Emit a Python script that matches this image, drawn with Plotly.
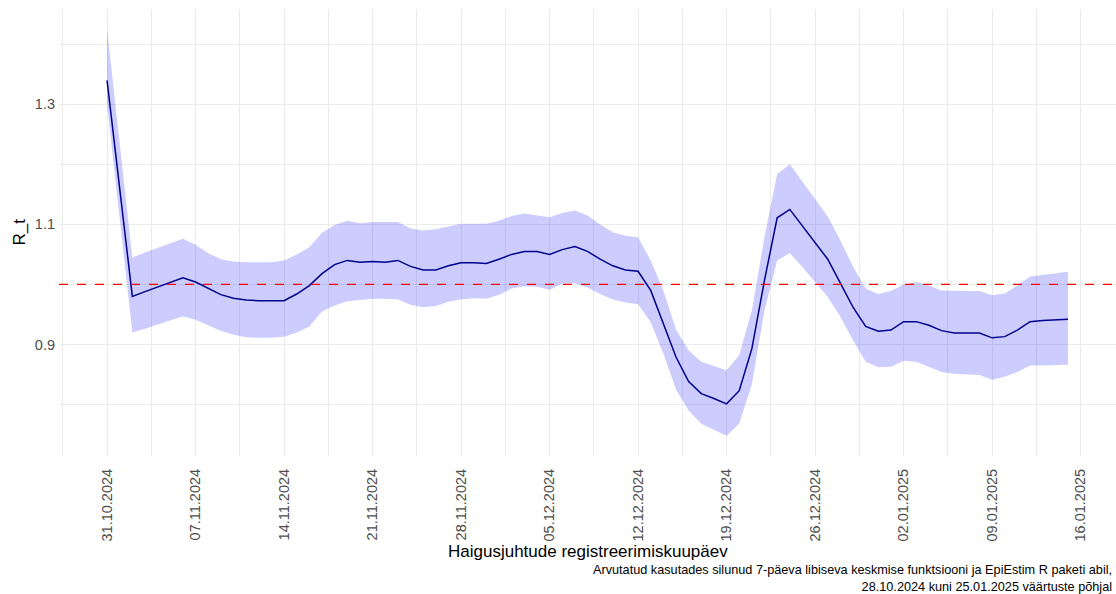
import pandas as pd
import plotly.graph_objects as go

start_date = "2024-10-31"
n_days = 77
dates = pd.date_range(start_date, periods=n_days, freq="D")

r_mean = [1.340, 1.160, 0.980, 0.988, 0.996, 1.004, 1.011, 1.004, 0.993, 0.983,
          0.977, 0.974, 0.973, 0.973, 0.973, 0.984, 0.998, 1.018, 1.033, 1.040,
          1.037, 1.038, 1.037, 1.040, 1.030, 1.024, 1.024, 1.031, 1.036, 1.036,
          1.035, 1.042, 1.050, 1.055, 1.055, 1.050, 1.058, 1.063, 1.055, 1.042,
          1.031, 1.024, 1.022, 0.990, 0.935, 0.879, 0.838, 0.818, 0.810, 0.801,
          0.823, 0.893, 1.007, 1.111, 1.125, 1.098, 1.070, 1.042, 1.002, 0.962,
          0.930, 0.922, 0.924, 0.938, 0.938, 0.932, 0.923, 0.919, 0.919, 0.919,
          0.911, 0.913, 0.924, 0.938, 0.940, 0.941, 0.942]

r_upper = [1.425, 1.235, 1.045, 1.053, 1.061, 1.069, 1.076, 1.066, 1.052, 1.042,
           1.038, 1.037, 1.037, 1.037, 1.040, 1.050, 1.062, 1.086, 1.099, 1.106,
           1.102, 1.104, 1.104, 1.104, 1.093, 1.090, 1.092, 1.097, 1.101, 1.101,
           1.101, 1.106, 1.114, 1.118, 1.115, 1.112, 1.119, 1.123, 1.115, 1.100,
           1.087, 1.081, 1.078, 1.040, 0.990, 0.925, 0.890, 0.871, 0.864, 0.857,
           0.882, 0.957, 1.079, 1.184, 1.200, 1.171, 1.143, 1.113, 1.073, 1.030,
           0.993, 0.984, 0.989, 1.000, 1.004, 0.998, 0.990, 0.989, 0.989, 0.989,
           0.982, 0.985, 0.998, 1.013, 1.016, 1.019, 1.021]

r_lower = [1.300, 1.110, 0.920, 0.926, 0.933, 0.940, 0.947, 0.941, 0.932, 0.923,
           0.916, 0.912, 0.911, 0.911, 0.913, 0.920, 0.930, 0.955, 0.965, 0.972,
           0.974, 0.976, 0.976, 0.975, 0.966, 0.962, 0.964, 0.971, 0.975, 0.977,
           0.976, 0.983, 0.993, 0.997, 0.996, 0.991, 1.001, 1.002, 0.995, 0.984,
           0.975, 0.970, 0.967, 0.937, 0.885, 0.825, 0.790, 0.768, 0.758, 0.748,
           0.768, 0.834, 0.957, 1.040, 1.052, 1.029, 1.004, 0.979, 0.946, 0.907,
           0.871, 0.862, 0.863, 0.873, 0.871, 0.862, 0.854, 0.851, 0.850, 0.849,
           0.841, 0.846, 0.854, 0.865, 0.865, 0.865, 0.866]

threshold = 1.0
x_title = "Haigusjuhtude registreerimiskuupäev"
y_title = "R_t"
caption_lines = [
    "Arvutatud kasutades silunud 7-päeva libiseva keskmise funktsiooni ja EpiEstim R paketi abil,",
    "28.10.2024 kuni 25.01.2025 väärtuste põhjal",
]

FONT = "Liberation Sans, Arial, sans-serif"
GRID = "#EBEBEB"
DAY_MS = 86400000

fig = go.Figure()
fig.add_trace(go.Scatter(x=dates, y=r_lower, mode="lines", line=dict(width=0),
                         hoverinfo="skip", showlegend=False))
fig.add_trace(go.Scatter(x=dates, y=r_upper, mode="lines", line=dict(width=0),
                         fill="tonexty", fillcolor="rgba(0,0,255,0.2)",
                         hoverinfo="skip", showlegend=False))
fig.add_trace(go.Scatter(x=dates, y=r_mean, mode="lines",
                         line=dict(color="#00008B", width=1.5), showlegend=False))

fig.add_shape(type="line", xref="paper", x0=0, x1=1, yref="y", y0=threshold, y1=threshold,
              line=dict(color="#FF0000", width=1.3, dash="dash"), layer="above")

span = (dates[-1] - dates[0]) * 0.05
x_range = [dates[0] - span, dates[-1] + span]
y_min = min(r_lower)
y_max = max(r_upper)
y_pad = (y_max - y_min) * 0.05

fig.update_layout(
    width=1116, height=594,
    margin=dict(l=59, r=0, t=9, b=138),
    paper_bgcolor="white", plot_bgcolor="white",
    font=dict(family=FONT, color="#4D4D4D"),
    xaxis=dict(
        type="date", range=x_range, automargin=False,
        tick0=start_date, dtick=7 * DAY_MS, tickformat="%d.%m.%Y",
        tickangle=-90, tickfont=dict(size=14.5, color="#4D4D4D"),
        ticklabelstandoff=9,
        showgrid=True, gridcolor=GRID, gridwidth=1.2,
        minor=dict(dtick=3.5 * DAY_MS, tick0="2024-10-27 12:00", showgrid=True,
                   gridcolor=GRID, gridwidth=0.8),
        zeroline=False, showline=False, ticks="",
    ),
    yaxis=dict(
        range=[y_min - y_pad, y_max + y_pad], automargin=False,
        tick0=0.9, dtick=0.2, tickformat=".1f",
        tickfont=dict(size=14.5, color="#4D4D4D"),
        ticklabelstandoff=3,
        showgrid=True, gridcolor=GRID, gridwidth=1.2,
        minor=dict(dtick=0.2, tick0=0.8, showgrid=True, gridcolor=GRID, gridwidth=0.8),
        zeroline=False, showline=False, ticks="",
    ),
)

# axis titles
fig.add_annotation(xref="paper", yref="paper", x=0.5, y=0, yshift=-95,
                   xanchor="center", yanchor="middle", showarrow=False,
                   text=x_title, font=dict(family=FONT, size=17, color="black"))
fig.add_annotation(xref="paper", yref="paper", x=0, y=0.5, xshift=-40,
                   xanchor="center", yanchor="middle", showarrow=False, textangle=-90,
                   text=y_title, font=dict(family=FONT, size=17, color="black"))

fig.add_annotation(
    xref="paper", yref="paper", x=1, y=0, yshift=-105, xshift=-2,
    xanchor="right", yanchor="top", align="right", showarrow=False,
    text="<br>".join(caption_lines),
    font=dict(family=FONT, size=12.7, color="black"),
)

fig.write_html("out.html", config={"displayModeBar": False},
               post_script="document.body.style.margin='0';")
